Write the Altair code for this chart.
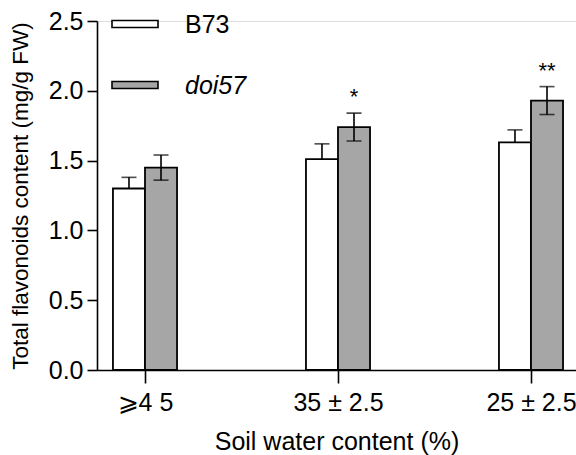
import altair as alt
import pandas as pd

groups = ["⩾4 5", "35 ± 2.5", "25 ± 2.5"]
series = ["B73", "doi57"]
b73_vals = [1.30, 1.51, 1.63]
b73_err = [0.08, 0.11, 0.09]
doi57_vals = [1.45, 1.74, 1.93]
doi57_err = [0.09, 0.10, 0.10]
signif = ["", "*", "**"]
y_ticks = [0.0, 0.5, 1.0, 1.5, 2.0, 2.5]

rows = []
for i, g in enumerate(groups):
    rows.append(dict(idx=i, group=g, series="B73", value=b73_vals[i], err=b73_err[i], sig=""))
    rows.append(dict(idx=i, group=g, series="doi57", value=doi57_vals[i], err=doi57_err[i], sig=signif[i]))
df = pd.DataFrame(rows)

FONT = "Liberation Sans"
BW = 0.166  # bar width in category units
fills = {"B73": "#ffffff", "doi57": "#a6a6a6"}

label_expr = "[" + ",".join("'" + g + "'" for g in groups) + "][datum.value]"

xscale = alt.Scale(domain=[-0.2487, 2.2332], nice=False, zero=False)
yscale = alt.Scale(domain=[0, 2.5], nice=False)

base = alt.Chart(df).transform_calculate(
    x0=f"datum.series == 'B73' ? datum.idx - {BW} : datum.idx",
    x1=f"datum.series == 'B73' ? datum.idx : datum.idx + {BW}",
    xc=f"datum.series == 'B73' ? datum.idx - {BW/2} : datum.idx + {BW/2}",
    lo="datum.series == 'B73' ? datum.value : datum.value - datum.err",
    hi="datum.value + datum.err",
)

bars = base.mark_bar(stroke="black", strokeWidth=1.8).encode(
    x=alt.X("x0:Q", scale=xscale,
            axis=alt.Axis(values=[0, 1, 2], labelExpr=label_expr, title="Soil water content (%)",
                          grid=False, tickSize=13, tickWidth=1.6, domainWidth=1.6,
                          domainColor="black", tickColor="black", labelColor="black",
                          labelFont=FONT, labelFontSize=25, labelPadding=7, labelFlush=False,
                          titleFont=FONT, titleFontSize=25, titleFontWeight="normal",
                          titleColor="black", titlePadding=14)),
    x2="x1:Q",
    y=alt.Y("value:Q", scale=yscale,
            axis=alt.Axis(values=y_ticks, format=".1f", title="Total flavonoids content (mg/g FW)",
                          grid=False, tickSize=10, tickWidth=1.6, domainWidth=1.6,
                          domainColor="black", tickColor="black", labelColor="black",
                          labelFont=FONT, labelFontSize=25, labelPadding=4, labelFlush=False,
                          titleFont=FONT, titleFontSize=22.5, titleFontWeight="normal",
                          titleColor="black", titlePadding=16)),
    y2=alt.datum(0),
    fill=alt.Fill("series:N", scale=alt.Scale(domain=series, range=[fills[s] for s in series]), legend=None),
    order=alt.Order("series:N"),
)

err_rule = base.mark_rule(color="black", strokeWidth=1.6).encode(
    x=alt.X("xc:Q", scale=xscale), y=alt.Y("lo:Q", scale=yscale), y2="hi:Q"
)
cap_hi = base.mark_tick(color="black", thickness=1.6, size=15, orient="horizontal").encode(
    x=alt.X("xc:Q", scale=xscale), y=alt.Y("hi:Q", scale=yscale)
)
cap_lo = base.transform_filter("datum.series != 'B73'").mark_tick(
    color="black", thickness=1.6, size=15, orient="horizontal").encode(
    x=alt.X("xc:Q", scale=xscale), y=alt.Y("lo:Q", scale=yscale)
)
stars = base.transform_filter("datum.sig != ''").mark_text(
    font=FONT, fontSize=22, color="black", baseline="alphabetic", dy=-9
).encode(x=alt.X("xc:Q", scale=xscale), y=alt.Y("hi:Q", scale=yscale), text="sig:N")

legend_layers = []
for i, s in enumerate(series):
    ly = 3 + i * 61
    legend_layers.append(
        alt.Chart(pd.DataFrame({"s": [s]})).mark_point(
            shape="M-1,-0.152H1V0.152H-1Z", size=2116, filled=True,
            fill=fills[s], stroke="black", strokeWidth=1.6, opacity=1
        ).encode(x=alt.value(38), y=alt.value(ly))
    )
    legend_layers.append(
        alt.Chart(pd.DataFrame({"s": [s]})).mark_text(
            font=FONT, fontSize=25, color="black", align="left", baseline="middle",
            fontStyle="italic" if s == "doi57" else "normal"
        ).encode(x=alt.value(88), y=alt.value(ly + 1), text="s:N")
    )

chart = alt.layer(bars, err_rule, cap_hi, cap_lo, stars, *legend_layers).properties(
    width=479, height=349,
    autosize=alt.AutoSizeParams(type="none"),
    padding={"left": 97, "top": 21, "right": 0, "bottom": 85},
).configure_view(stroke=None).configure(background="white")

chart.save("out.html", embed_options={"renderer": "svg", "actions": False})
